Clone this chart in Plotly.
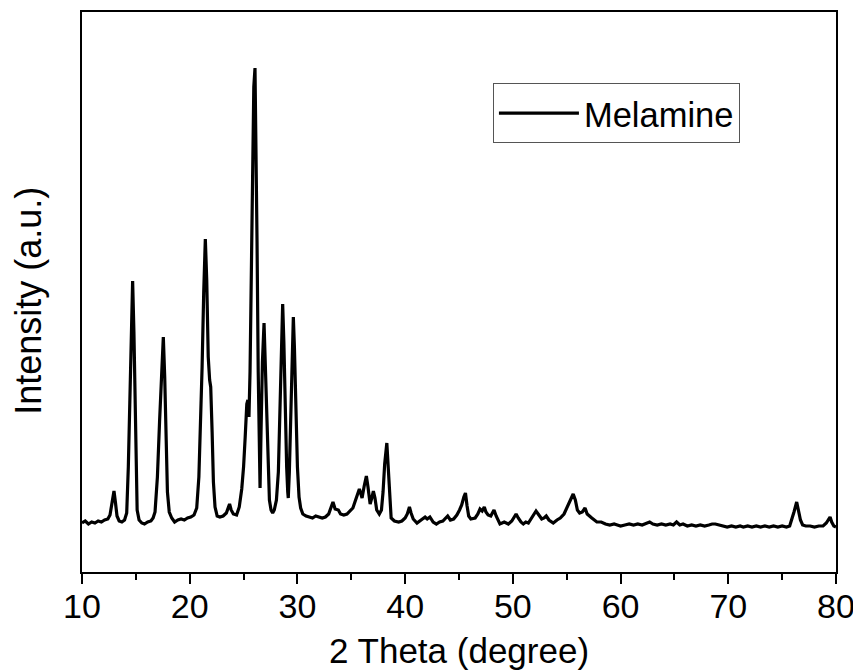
import plotly.graph_objects as go

two_theta = [
    10.0, 10.3, 10.6, 10.9, 11.2, 11.5, 11.8, 12.1, 12.4, 12.6, 12.8, 12.97, 13.1, 13.25, 13.45, 13.7, 13.95,
    14.15, 14.3, 14.46, 14.58, 14.7, 14.82, 14.92, 15.0, 15.12, 15.3, 15.55, 15.8, 16.1, 16.4, 16.6,
    16.78, 17.0, 17.2, 17.38, 17.55, 17.68, 17.8, 17.93, 18.1, 18.33, 18.6, 18.9, 19.2, 19.5, 19.8,
    20.1, 20.4, 20.65, 20.85, 21.0, 21.15, 21.3, 21.45, 21.58, 21.72, 21.85, 21.95, 22.08, 22.2, 22.35,
    22.55, 22.8, 23.1, 23.4, 23.6, 23.7, 23.85, 24.05, 24.35, 24.6, 24.83, 25.0, 25.15, 25.3, 25.4,
    25.5, 25.6, 25.72, 25.85, 25.95, 26.06, 26.15, 26.25, 26.36, 26.45, 26.53, 26.62, 26.75, 26.9,
    27.02, 27.12, 27.25, 27.4, 27.55, 27.7, 27.85, 28.05, 28.23, 28.4, 28.52, 28.63, 28.74, 28.86,
    29.0, 29.1, 29.15, 29.25, 29.38, 29.5, 29.62, 29.72, 29.85, 30.0, 30.15, 30.3, 30.5, 30.8, 31.1,
    31.4, 31.7, 32.0, 32.3, 32.6, 32.9, 33.1, 33.3, 33.5, 33.8, 34.0, 34.3, 34.6, 34.9, 35.15, 35.4,
    35.6, 35.75, 35.9, 36.0, 36.2, 36.4, 36.55, 36.75, 36.9, 37.05, 37.2, 37.36, 37.6, 37.8, 37.95,
    38.1, 38.3, 38.45, 38.55, 38.7, 39.0, 39.4, 39.7, 40.0, 40.2, 40.4, 40.55, 40.75, 41.1, 41.5,
    41.85, 42.05, 42.3, 42.6, 42.9, 43.2, 43.5, 43.95, 44.2, 44.5, 44.8, 45.05, 45.25, 45.45, 45.6,
    45.75, 45.9, 46.1, 46.5, 46.75, 46.95, 47.15, 47.35, 47.5, 47.7, 47.95, 48.25, 48.45, 48.8, 49.2,
    49.58, 49.9, 50.1, 50.3, 50.5, 50.75, 50.97, 51.2, 51.44, 51.7, 51.95, 52.15, 52.35, 52.68, 52.9,
    53.1, 53.35, 53.75, 54.1, 54.4, 54.75, 55.07, 55.3, 55.6, 55.8, 55.99, 56.2, 56.45, 56.7, 56.9,
    57.33, 57.8, 58.2, 58.6, 59.0, 59.4, 59.7, 60.0, 60.4, 60.8, 61.2, 61.6, 62.0, 62.4, 62.7, 63.0,
    63.4, 63.8, 64.2, 64.6, 64.9, 65.2, 65.5, 65.8, 66.2, 66.6, 67.0, 67.4, 67.8, 68.2, 68.5, 68.8,
    69.1, 69.5, 69.9, 70.3, 70.7, 71.1, 71.4, 71.8, 72.2, 72.6, 73.0, 73.4, 73.8, 74.2, 74.6, 75.0,
    75.4, 75.7, 75.9, 76.1, 76.35, 76.55, 76.7, 76.9, 77.2, 77.6, 78.0, 78.4, 78.8, 79.1, 79.3, 79.45,
    79.6, 79.8, 80.0,
]

intensity = [
    49, 51, 48, 50, 49, 51, 50, 52, 53, 57, 70, 81, 70, 56, 51, 50, 52,
    59, 105, 170, 240, 291, 240, 170, 105, 62, 52, 49, 48, 50, 51, 54,
    60, 95, 150, 205, 235, 195, 130, 80, 60, 54, 50, 52, 53, 52, 54,
    55, 57, 64, 95, 140, 205, 280, 333, 292, 215, 192, 185, 140, 90, 65,
    56, 55, 56, 59, 66, 68, 62, 58, 57, 65, 83, 105, 135, 168, 172,
    155, 200, 300, 420, 485, 504, 440, 330, 200, 110, 84, 140, 210, 249,
    205, 150, 100, 72, 62, 59, 62, 72, 100, 175, 240, 268, 230, 160,
    105, 80, 74, 100, 160, 230, 255, 225, 160, 105, 75, 64, 58, 56, 55,
    54, 56, 55, 54, 55, 58, 64, 70, 63, 62, 58, 57, 58, 61, 64, 72,
    80, 83, 78, 74, 86, 96, 85, 68, 74, 81, 74, 62, 58, 62, 80,
    108, 129, 100, 70, 54, 51, 50, 51, 54, 58, 65, 59, 53, 49, 52,
    55, 53, 55, 50, 48, 50, 51, 56, 52, 53, 57, 62, 67, 75, 79,
    66, 56, 53, 54, 58, 63, 61, 65, 60, 57, 56, 62, 56, 48, 50,
    48, 51, 55, 58, 54, 50, 48, 50, 49, 53, 57, 61, 58, 53, 54,
    56, 52, 49, 52, 54, 58, 65, 71, 78, 72, 62, 59, 60, 64, 58,
    54, 50, 50, 48, 47, 48, 47, 46, 47, 48, 47, 48, 47, 49, 50, 48,
    47, 48, 47, 48, 47, 50, 47, 48, 46, 47, 46, 47, 46, 47, 48, 48,
    47, 46, 45, 46, 45, 46, 45, 46, 45, 46, 45, 46, 45, 46, 45, 46,
    45, 46, 52, 60, 70, 60, 52, 47, 46, 46, 45, 46, 46, 49, 53, 55,
    50, 46, 45,
]

series_name = "Melamine"
x_ticks = [10, 20, 30, 40, 50, 60, 70, 80]
x_title = "2 Theta (degree)"
y_title = "Intensity (a.u.)"

FONT = "Liberation Sans, Arial, sans-serif"

fig = go.Figure()
fig.add_trace(go.Scatter(
    x=two_theta, y=intensity, mode="lines", name=series_name,
    line=dict(color="black", width=3.2),
))

# page body adds an 8px offset; size/margins compensate for it
fig.update_layout(
    width=853, height=663,
    margin=dict(l=74, r=25, t=4, b=99, autoexpand=False),
    paper_bgcolor="white", plot_bgcolor="white",
    font=dict(family=FONT, color="black", size=34),
    showlegend=True,
    legend=dict(
        x=0.545, y=0.873, xanchor="left", yanchor="top",
        bordercolor="#555555", borderwidth=1, bgcolor="white",
        font=dict(family=FONT, size=34.5, color="black"),
        itemwidth=80, tracegroupgap=0,
    ),
    annotations=[
        dict(text=x_title, xref="paper", yref="paper", x=0.5, y=-0.141,
             xanchor="center", yanchor="middle", showarrow=False,
             font=dict(family=FONT, size=35, color="black")),
        dict(text=y_title, xref="paper", yref="paper", x=-0.071, y=0.485,
             xanchor="center", yanchor="middle", showarrow=False, textangle=-90,
             font=dict(family=FONT, size=36, color="black")),
    ],
)
fig.update_xaxes(
    range=[10, 80], tickvals=x_ticks, ticks="outside", ticklen=10, tickwidth=2,
    tickcolor="black", showline=True, linewidth=2, linecolor="black", mirror=True,
    showgrid=False, zeroline=False, automargin=False, ticklabelstandoff=-7,
    minor=dict(dtick=5, ticks="outside", ticklen=6, tickwidth=2, tickcolor="black", showgrid=False),
    tickfont=dict(family=FONT, size=34, color="black"),
)
fig.update_yaxes(
    range=[0, 560], showticklabels=False, ticks="", showline=True, linewidth=2,
    linecolor="black", mirror=True, showgrid=False, zeroline=False, automargin=False,
)

fig.write_html("out.html")
